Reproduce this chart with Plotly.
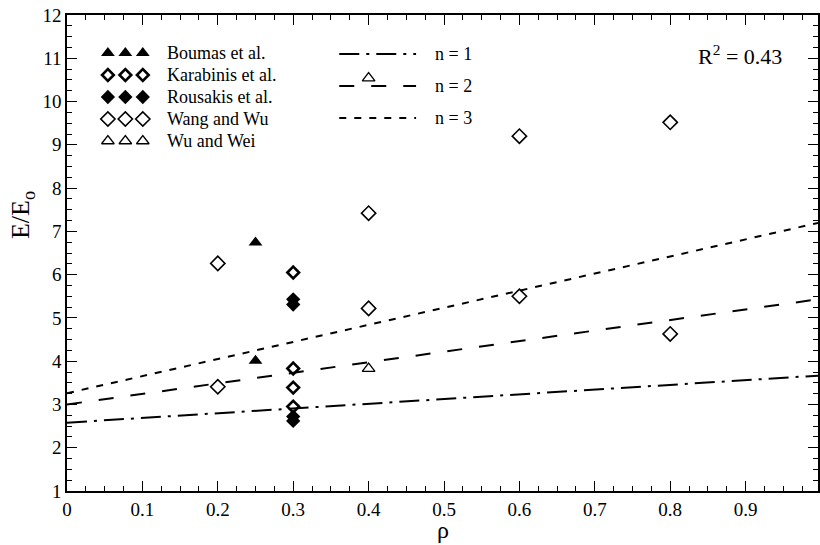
import plotly.graph_objects as go

# ---- data ----
boumas_x = [0.25, 0.25]
boumas_y = [6.74, 4.01]
karabinis_x = [0.3, 0.3, 0.3, 0.3]
karabinis_y = [6.05, 3.83, 3.39, 2.95]
rousakis_x = [0.3, 0.3, 0.3, 0.3]
rousakis_y = [5.43, 5.31, 2.72, 2.62]
wang_x = [0.2, 0.2, 0.4, 0.4, 0.6, 0.6, 0.8, 0.8]
wang_y = [6.26, 3.41, 7.42, 5.22, 9.2, 5.5, 9.52, 4.63]
wuwei_x = [0.4, 0.4]
wuwei_y = [10.54, 3.83]

line_x = [0.0, 0.25, 0.5, 0.75, 1.0]
n1_y = [2.58, 2.85, 3.13, 3.40, 3.67]
n2_y = [3.00, 3.61, 4.22, 4.83, 5.44]
n3_y = [3.26, 4.25, 5.24, 6.23, 7.21]

xticks = [0, 0.1, 0.2, 0.3, 0.4, 0.5, 0.6, 0.7, 0.8, 0.9]
xtick_labels = ["0", "0.1", "0.2", "0.3", "0.4", "0.5", "0.6", "0.7", "0.8", "0.9"]
yticks = list(range(1, 13))

FONT = "Liberation Serif, Times New Roman, Times, serif"

marker_styles = {
    "Boumas et al.": dict(symbol="triangle-up", size=12, color="black"),
    "Karabinis et al.": dict(symbol="diamond-open", size=9, color="black", line=dict(width=2.6, color="black")),
    "Rousakis et al.": dict(symbol="diamond", size=11, color="black"),
    "Wang and Wu": dict(symbol="diamond-open", size=11, color="black", line=dict(width=1.6, color="black")),
    "Wu and Wei": dict(symbol="triangle-up-open", size=11, color="black", line=dict(width=1.3, color="black")),
}
series = [
    ("Boumas et al.", boumas_x, boumas_y),
    ("Karabinis et al.", karabinis_x, karabinis_y),
    ("Rousakis et al.", rousakis_x, rousakis_y),
    ("Wang and Wu", wang_x, wang_y),
    ("Wu and Wei", wuwei_x, wuwei_y),
]
line_styles = [
    ("n = 1", n1_y, "20px,7px,3px,7px"),
    ("n = 2", n2_y, "15px,17px"),
    ("n = 3", n3_y, "7px,8px"),
]

fig = go.Figure()

for name, y, dash in line_styles:
    fig.add_trace(go.Scatter(x=line_x, y=y, mode="lines", showlegend=False,
                             line=dict(color="black", width=2, dash=dash)))

for name, xs, ys in series:
    fig.add_trace(go.Scatter(x=xs, y=ys, mode="markers", showlegend=False,
                             marker=marker_styles[name]))

# ---- custom legend on an overlay axis (0..1 = plot area) ----
L, T, W, H = 67, 15, 753, 476
def fx(px):
    return (px - L) / W
def fy(py):
    return (T + H - py) / H

sym_rows = [53, 75, 97, 119, 141]
sym_cols = [108, 125.5, 143]
for (name, _, _), row in zip(series, sym_rows):
    fig.add_trace(go.Scatter(x=[fx(c) for c in sym_cols], y=[fy(row)] * 3, mode="markers",
                             xaxis="x2", yaxis="y2", showlegend=False,
                             marker=marker_styles[name]))
    fig.add_annotation(x=fx(165), y=fy(row), xref="paper", yref="paper", text=name,
                       showarrow=False, xanchor="left", yanchor="middle",
                       font=dict(family=FONT, size=18, color="black"))

line_rows = [54, 86, 118]
for (name, _, dash), row in zip(line_styles, line_rows):
    fig.add_trace(go.Scatter(x=[fx(340), fx(417)], y=[fy(row)] * 2, mode="lines",
                             xaxis="x2", yaxis="y2", showlegend=False,
                             line=dict(color="black", width=2, dash=dash)))
    fig.add_annotation(x=fx(434), y=fy(row), xref="paper", yref="paper", text=name,
                       showarrow=False, xanchor="left", yanchor="middle",
                       font=dict(family=FONT, size=18, color="black"))

fig.add_annotation(x=fx(742), y=fy(55), xref="paper", yref="paper",
                   text="R<sup>2</sup> = 0.43", showarrow=False,
                   xanchor="center", yanchor="middle",
                   font=dict(family=FONT, size=22, color="black"))

# axis titles as annotations, placed where the reference has them
fig.add_annotation(x=fx(22), y=fy(215), xref="paper", yref="paper",
                   text="E/E<sub>o</sub>", showarrow=False, textangle=-90,
                   xanchor="center", yanchor="middle",
                   font=dict(family=FONT, size=26, color="black"))
fig.add_annotation(x=fx(444), y=fy(545), xref="paper", yref="paper",
                   text="ρ", showarrow=False,
                   xanchor="center", yanchor="bottom",
                   font=dict(family=FONT, size=24, color="black"))

axis_common = dict(showline=True, linecolor="black", linewidth=1.5, mirror="ticks",
                   ticks="inside", ticklen=10, tickwidth=1.3, tickcolor="black",
                   showgrid=False, zeroline=False,
                   tickfont=dict(family=FONT, size=19, color="black"))

fig.update_layout(
    width=820, height=545,
    margin=dict(l=67, r=0, t=15, b=54),
    paper_bgcolor="white", plot_bgcolor="white",
    font=dict(family=FONT, color="black"),
    xaxis=dict(range=[0, 0.996], tickvals=xticks, ticktext=xtick_labels,
               minor=dict(dtick=0.025, ticks="inside", ticklen=5, tickcolor="black", tickwidth=1.2),
               **axis_common),
    yaxis=dict(range=[1, 12], tickvals=yticks,
               minor=dict(dtick=0.25, ticks="inside", ticklen=5, tickcolor="black", tickwidth=1.2),
               **axis_common),
    xaxis2=dict(overlaying="x", range=[0, 1], visible=False, fixedrange=True),
    yaxis2=dict(overlaying="y", range=[0, 1], visible=False, fixedrange=True),
)

fig.write_html("out.html", config={"displayModeBar": False},
               post_script="document.body.style.margin='0';document.body.style.padding='0';")
